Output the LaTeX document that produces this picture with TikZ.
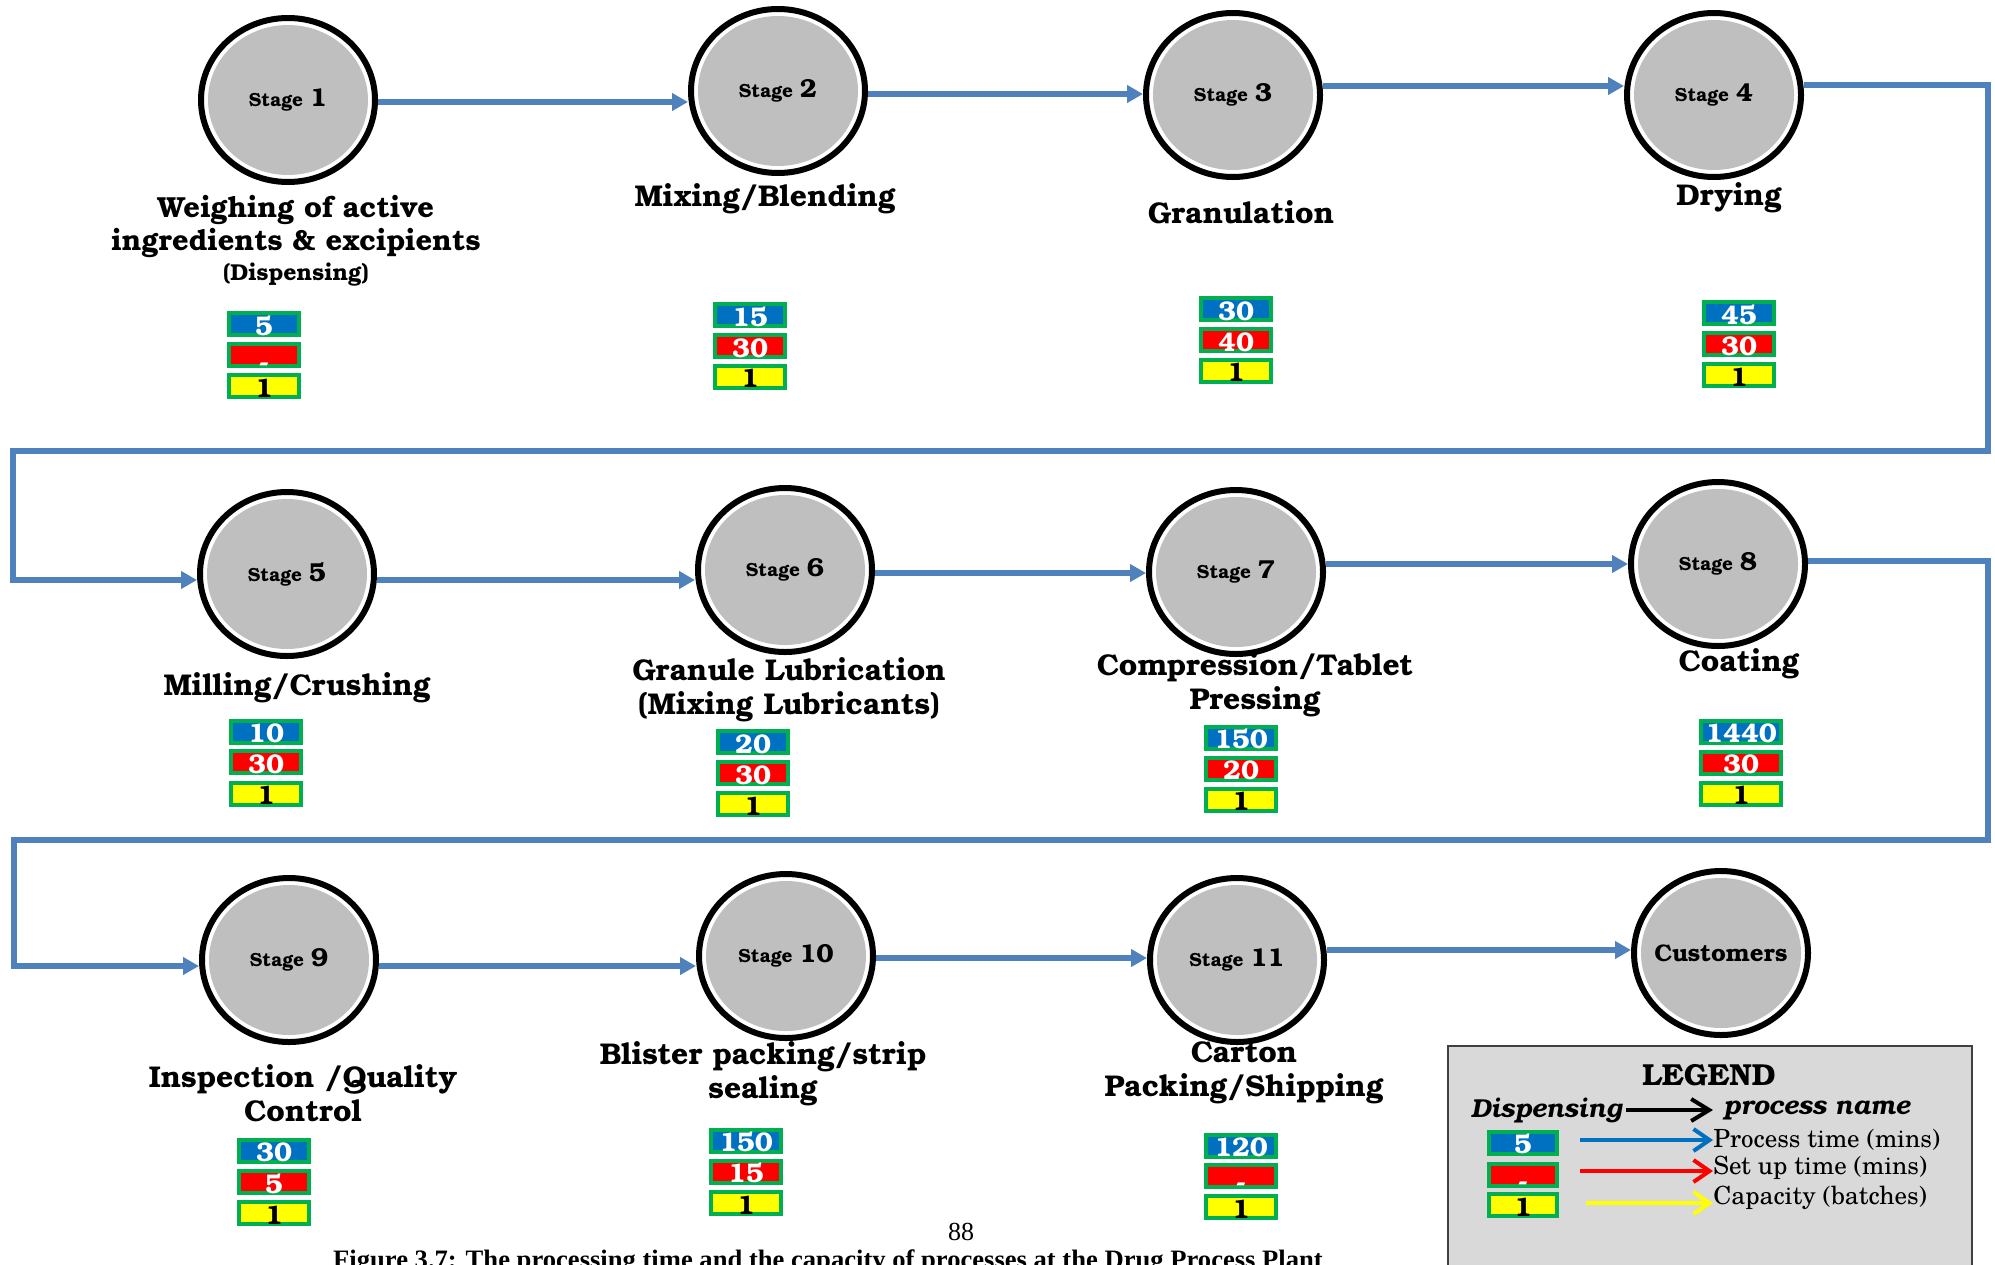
\documentclass[tikz,border=0pt]{standalone}
\usepackage{fontspec}
\setmainfont{TeX Gyre Bonum}
\newfontfamily\legendfont{TeX Gyre Schola}
\newfontfamily\pagefont{Liberation Serif}
\usetikzlibrary{shapes.geometric,arrows.meta,calc}

\definecolor{connblue}{HTML}{4F81BD}
\definecolor{stagegrey}{HTML}{BFBFBF}
\definecolor{ptblue}{HTML}{0070C0}
\definecolor{stred}{HTML}{FF0000}
\definecolor{capyellow}{HTML}{FFFF00}
\definecolor{boxgreen}{HTML}{00B050}
\definecolor{legendgrey}{HTML}{D9D9D9}

\pgfdeclarelayer{background}
\pgfsetlayers{background,main}

\tikzset{
  stage/.style={ellipse, draw=black, line width=3pt, fill=white,
    minimum width=87pt, minimum height=82pt, inner sep=0pt, font=\bfseries,
    path picture={\fill[stagegrey] (path picture bounding box.center)
      ellipse [x radius=40pt, y radius=37.5pt];}},
  conn/.style={draw=connblue, line width=2.6pt, line join=miter,
    -{Triangle[length=8pt,width=8.5pt]}},
  numbox/.style={draw=boxgreen, line width=2pt, minimum width=35pt,
    minimum height=11pt, inner sep=0pt, text height=11pt, text depth=0pt,
    font=\bfseries\fontsize{13.5pt}{14pt}\selectfont},
  ptbox/.style={numbox, fill=ptblue, text=white},
  stbox/.style={numbox, fill=stred, text=white},
  capbox/.style={numbox, fill=capyellow, text=black},
  stagename/.style={align=center, inner sep=0pt,
    font=\bfseries\fontsize{15pt}{17pt}\selectfont},
  legtext/.style={inner sep=0pt, anchor=west,
    font=\legendfont\fontsize{12.5pt}{14pt}\selectfont},
  legarrow/.style={line width=2pt, -{Straight Barb[length=8pt,width=11pt]}},
}
\newcommand{\stagetext}[1]{{\fontsize{9.5pt}{11pt}\selectfont Stage}
  {\fontsize{13pt}{14pt}\selectfont #1}}
\newcommand{\nodash}{\raisebox{-2.5pt}{-}}

\begin{document}
\begin{tikzpicture}[x=0.5pt, y=-0.5pt]
\useasboundingbox (0,0) rectangle (1995,1264);
\begin{pgfonlayer}{background}
  \fill[white] (0,0) rectangle (1995,1264);
\end{pgfonlayer}

% ---------------- stages ----------------
\node[stage] (s1)  at (288,100)  {\stagetext{1}};
\node[stage] (s2)  at (778,91)   {\stagetext{2}};
\node[stage] (s3)  at (1233,95)  {\stagetext{3}};
\node[stage] (s4)  at (1714,95)  {\stagetext{4}};
\node[stage] (s5)  at (287,574)  {\stagetext{5}};
\node[stage] (s6)  at (785,570)  {\stagetext{6}};
\node[stage] (s7)  at (1236,572) {\stagetext{7}};
\node[stage] (s8)  at (1718,564) {\stagetext{8}};
\node[stage] (s9)  at (289,960)  {\stagetext{9}};
\node[stage] (s10) at (786,956)  {\stagetext{10}};
\node[stage] (s11) at (1237,960) {\stagetext{11}};
\node[stage, inner xsep=-8pt] (cust) at (1721,953) {\fontsize{12pt}{14pt}\selectfont Customers};

% ---------------- process names ----------------
\node[stagename, font=\bfseries\fontsize{14.5pt}{16.5pt}\selectfont] (n1) at (296,226) {Weighing of active\\ingredients \& excipients};
\node[inner sep=0pt, font=\bfseries\fontsize{11.5pt}{13pt}\selectfont] (n1b) at (296,275) {(Dispensing)};
\node[stagename] (n2)  at (765,199)  {Mixing/Blending};
\node[stagename] (n3)  at (1241,212) {Granulation};
\node[stagename] (n4)  at (1729,198) {Drying};
\node[stagename] (n5)  at (297,688)  {Milling/Crushing};
\node[stagename] (n6)  at (789,690)  {Granule Lubrication\\(Mixing Lubricants)};
\node[stagename] (n7)  at (1255,685) {Compression/Tablet\\Pressing};
\node[stagename] (n8)  at (1739,664) {Coating};
\node[stagename] (n9)  at (303,1093) {Inspection /Quality\\Control};
\node[stagename] (n10) at (763,1074) {Blister packing/strip\\sealing};
\node[stagename] (n11) at (1244,1073) {Carton\\Packing/Shipping};

% ---------------- time / capacity boxes ----------------
\node[ptbox]  (p1) at (264,324) {5};
\node[stbox]  (u1) at (264,355) {\nodash};
\node[capbox] (c1) at (264,386) {1};
\node[ptbox]  (p2) at (750,315) {15};
\node[stbox]  (u2) at (750,346) {30};
\node[capbox] (c2) at (750,376.5) {1};
\node[ptbox]  (p3) at (1236,309) {30};
\node[stbox]  (u3) at (1236,340) {40};
\node[capbox] (c3) at (1236,370.5) {1};
\node[ptbox]  (p4) at (1739,313) {45};
\node[stbox]  (u4) at (1739,344) {30};
\node[capbox] (c4) at (1739,375) {1};
\node[ptbox]  (p5) at (266,731.5) {10};
\node[stbox]  (u5) at (266,762) {30};
\node[capbox] (c5) at (266,793.5) {1};
\node[ptbox]  (p6) at (753,742) {20};
\node[stbox]  (u6) at (753,773) {30};
\node[capbox] (c6) at (753,804) {1};
\node[ptbox]  (p7) at (1241,737.5) {150};
\node[stbox]  (u7) at (1241,768.5) {20};
\node[capbox] (c7) at (1241,799.5) {1};
\node[ptbox, minimum width=40pt]  (p8) at (1741,731.5) {1440};
\node[stbox, minimum width=40pt]  (u8) at (1741,762.5) {30};
\node[capbox, minimum width=40pt] (c8) at (1741,793.5) {1};
\node[ptbox]  (p9) at (274,1150.5) {30};
\node[stbox]  (u9) at (274,1182) {5};
\node[capbox] (c9) at (274,1213) {1};
\node[ptbox]  (p10) at (746,1140.5) {150};
\node[stbox]  (u10) at (746,1171.5) {15};
\node[capbox] (c10) at (746,1203) {1};
\node[ptbox]  (p11) at (1241,1145.5) {120};
\node[stbox]  (u11) at (1241,1175.5) {\nodash};
\node[capbox] (c11) at (1241,1207) {1};

% ---------------- flow connectors ----------------
\coordinate (o1)  at ($(s1.east)+(0,2)$);
\coordinate (o2)  at ($(s2.east)+(0,3)$);
\coordinate (o3)  at ($(s3.east)+(0,-9)$);
\coordinate (o4)  at ($(s4.east)+(0,-10)$);
\coordinate (k1)  at (1988,451);
\coordinate (k2)  at (13,451);
\coordinate (i5)  at ($(s5.west)+(0,6)$);
\coordinate (o5)  at ($(s5.east)+(0,6)$);
\coordinate (o6)  at ($(s6.east)+(0,3)$);
\coordinate (o7)  at ($(s7.east)+(0,-8)$);
\coordinate (o8)  at ($(s8.east)+(0,-3)$);
\coordinate (k3)  at (1988,840);
\coordinate (k4)  at (14,840);
\coordinate (i9)  at ($(s9.west)+(0,6)$);
\coordinate (o9)  at ($(s9.east)+(0,6)$);
\coordinate (o10) at ($(s10.east)+(0,2)$);
\coordinate (o11) at ($(s11.east)+(0,-10)$);

\begin{pgfonlayer}{background}
  \draw[conn] (o1) -- (o1 -| s2.west);
  \draw[conn] (o2) -- (o2 -| s3.west);
  \draw[conn] (o3) -- (o3 -| s4.west);
  \draw[conn] (o4) -| (k1) -- (k2) |- (i5);
  \draw[conn] (o5) -- (o5 -| s6.west);
  \draw[conn] (o6) -- (o6 -| s7.west);
  \draw[conn] (o7) -- (o7 -| s8.west);
  \draw[conn] (o8) -| (k3) -- (k4) |- (i9);
  \draw[conn] (o9) -- (o9 -| s10.west);
  \draw[conn] (o10) -- (o10 -| s11.west);
  \draw[conn] (o11) -- (o11 -| cust.west);
\end{pgfonlayer}

% ---------------- legend ----------------
\node[draw=black!75, fill=legendgrey, line width=1pt, inner sep=0pt,
  minimum width=262pt, minimum height=130pt, anchor=north west] (legbox) at (1447,1045) {};
\node[inner sep=0pt, font=\bfseries\fontsize{15.2pt}{17pt}\selectfont] (legtitle) at (1709,1075) {LEGEND};
\node[inner sep=0pt, anchor=east, font=\bfseries\itshape\fontsize{13pt}{15pt}\selectfont] (legdisp) at (1622,1110) {Dispensing};
\node[inner sep=0pt, anchor=west, font=\bfseries\itshape\fontsize{13pt}{15pt}\selectfont] (legproc) at (1723,1110) {process name};
\draw[legarrow, draw=black, -{Straight Barb[length=9pt,width=11pt]}] ($(legdisp.east)+(4,0)$) -- ($(legproc.west)+(-10,0)$);

\node[ptbox, minimum width=34pt]  (lp) at (1523,1142.5) {5};
\node[stbox, minimum width=34pt]  (lu) at (1523,1174.5) {\nodash};
\node[capbox, minimum width=34pt] (lc) at (1523,1205) {1};
\node[legtext] (lt1) at (1713,1140) {Process time (mins)};
\node[legtext] (lt2) at (1713,1168) {Set up time (mins)};
\node[legtext] (lt3) at (1713,1198) {Capacity (batches)};
\coordinate (la1) at ($(lt1.west -| lp.east)+(21,0)$);
\coordinate (la2) at ($(lt2.west -| lu.east)+(21,3)$);
\coordinate (la3) at ($(lt3.west -| lc.east)+(27,5)$);
\draw[legarrow, draw=ptblue] (la1) -- (lt1.west);
\draw[legarrow, draw=stred] (la2) -- ($(lt2.west)+(0,3)$);
\draw[legarrow, draw=capyellow] (la3) -- ($(lt3.west)+(0,5)$);

% ---------------- page footer ----------------
\node[inner sep=0pt, font=\pagefont\fontsize{13pt}{15pt}\selectfont] (pageno) at (961,1232) {88};
\node[inner sep=0pt, anchor=base, font=\pagefont\bfseries\fontsize{13.3pt}{15pt}\selectfont] (caption) at (828,1268)
  {Figure 3.7: The processing time and the capacity of processes at the Drug Process Plant};
\end{tikzpicture}
\end{document}
